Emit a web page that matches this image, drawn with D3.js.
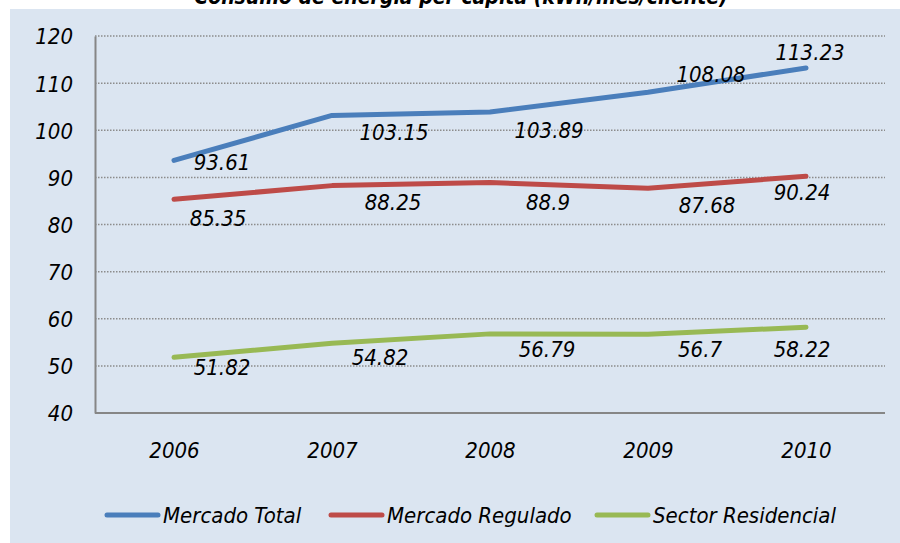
<!DOCTYPE html>
<html>
<head>
<meta charset="utf-8">
<script src="https://cdn.jsdelivr.net/npm/d3@7"></script>
<style>
  body { margin: 0; background: #ffffff; }
  svg text { font-family: "Liberation Sans Narrow", "Arial Narrow", "DejaVu Sans Condensed", sans-serif; font-style: italic; }
</style>
</head>
<body>
<div class="chart"></div>
<script>
var years = ['2006', '2007', '2008', '2009', '2010'];
var mercadoTotal = [93.61, 103.15, 103.89, 108.08, 113.23];
var mercadoRegulado = [85.35, 88.25, 88.9, 87.68, 90.24];
var sectorResidencial = [51.82, 54.82, 56.79, 56.7, 58.22];
var seriesNames = ['Mercado Total', 'Mercado Regulado', 'Sector Residencial'];
var yTicks = [40, 50, 60, 70, 80, 90, 100, 110, 120];

var color = ['#4a7ebb', '#be4b48', '#98b954'];
// label offsets (dx, dy) from each point, as placed in the original
var labelOffsets = [
    [[48, 10], [62, 25], [59, 26], [63, -10], [4, -8]],
    [[44, 27], [61, 24], [58, 27], [59, 25], [-4, 24]],
    [[48, 18], [48, 22], [57, 23], [52, 23], [-4, 30]]
];

var width = 900, height = 543;
var plotLeft = 95, plotRight = 885, plotTop = 36, plotBottom = 413;
var fontSize = "22px";

var svg = d3.select(".chart")
    .append("svg")
    .attr('width', width)
    .attr('height', height)

svg.append("rect")
    .attr("x", 10)
    .attr("y", 9)
    .attr("width", width - 10)
    .attr("height", height - 9)
    .attr("fill", "#dbe5f1")

// title sits mostly above the frame, as in the original
svg.append("text")
    .attr("x", 461)
    .attr("y", 4)
    .attr("text-anchor", "middle")
    .style("font-size", "21px")
    .style("font-weight", "bold")
    .attr("fill", "black")
    .text("Consumo de energía per cápita (kWh/mes/cliente)")

var x = d3.scalePoint().domain(years).range([plotLeft, plotRight]).padding(0.5);
var y = d3.scaleLinear().domain([40, 120]).range([plotBottom, plotTop]);

// gridlines
svg.append("g")
    .selectAll("line")
    .data(yTicks.slice(1))
    .enter()
    .append("line")
    .attr("x1", plotLeft)
    .attr("x2", plotRight)
    .attr("y1", function(d) { return y(d); })
    .attr("y2", function(d) { return y(d); })
    .attr("stroke", "#8c8c8c")
    .attr("stroke-width", 1.5)
    .attr("stroke-dasharray", "1.5,1.5")

// y axis
var yAxis = svg.append("g")
    .attr("transform", "translate(" + plotLeft + ",0)")
    .call(d3.axisLeft(y).tickValues(yTicks).tickSize(0).tickPadding(22));
yAxis.select(".domain").attr("stroke", "#868686").attr("stroke-width", 2);
yAxis.selectAll("text")
    .style("font-size", fontSize)
    .attr("fill", "black")
    .attr("dy", "0.36em")

// x axis
var xAxis = svg.append("g")
    .attr("transform", "translate(0," + plotBottom + ")")
    .call(d3.axisBottom(x).tickSize(0).tickPadding(29));
xAxis.select(".domain").attr("d", "M" + plotLeft + ",0H" + plotRight).attr("stroke", "#868686").attr("stroke-width", 2);
xAxis.selectAll("text")
    .style("font-size", fontSize)
    .attr("fill", "black")

var allSeries = [mercadoTotal, mercadoRegulado, sectorResidencial];

var line = d3.line()
    .x(function(d, i) { return x(years[i]); })
    .y(function(d) { return y(d); });

for (var s = 0; s < 3; s++) {
    svg.append("path")
        .datum(allSeries[s])
        .attr("d", line)
        .attr("fill", "none")
        .attr("stroke", color[s])
        .attr("stroke-width", 5)
        .attr("stroke-linecap", "round")
        .attr("stroke-linejoin", "round")
}

for (var s = 0; s < 3; s++) {
    svg.append("g")
        .selectAll("text")
        .data(allSeries[s])
        .enter()
        .append("text")
        .attr("x", function(d, i) { return x(years[i]) + labelOffsets[s][i][0]; })
        .attr("y", function(d, i) { return y(d) + labelOffsets[s][i][1]; })
        .attr("text-anchor", "middle")
        .style("font-size", fontSize)
        .attr("fill", "black")
        .text(function(d) { return d; })
}

// legend
var legendX = [107, 331, 597];
for (var i = 0; i < 3; i++) {
    svg.append("line")
        .attr("x1", legendX[i])
        .attr("x2", legendX[i] + 51)
        .attr("y1", 515)
        .attr("y2", 515)
        .attr("stroke", color[i])
        .attr("stroke-width", 5)
        .attr("stroke-linecap", "round")

    svg.append('text')
        .attr('x', legendX[i] + 56)
        .attr('y', 523)
        .text(seriesNames[i])
        .style("font-size", fontSize)
        .attr("fill", "black")
}
</script>
</body>
</html>
